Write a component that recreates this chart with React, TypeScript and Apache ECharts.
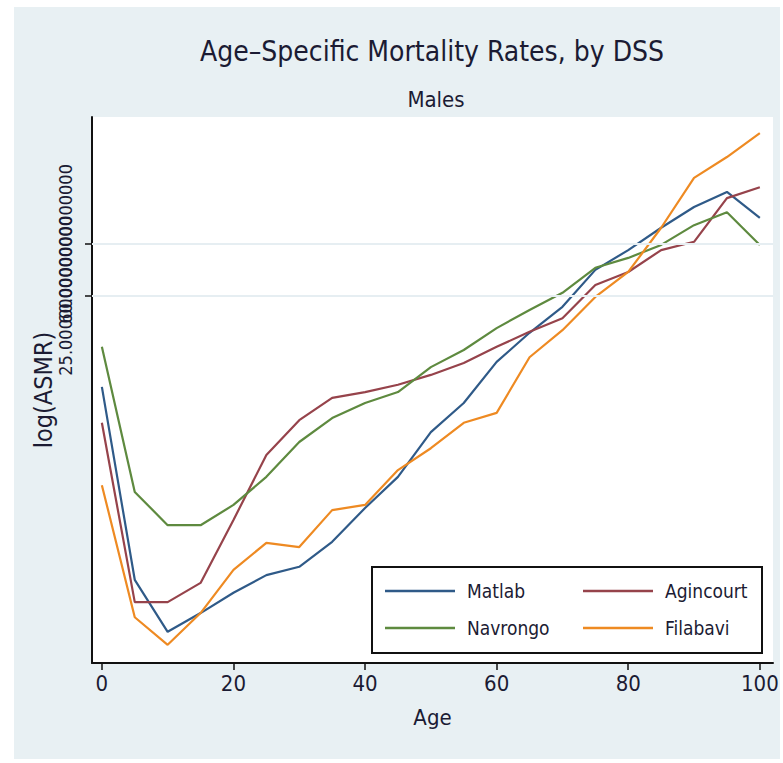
import React, { useEffect, useRef } from "react";
import * as echarts from "echarts";

// Age groups (years)
const ages = [0, 5, 10, 15, 20, 25, 30, 35, 40, 45, 50, 55, 60, 65, 70, 75, 80, 85, 90, 95, 100];

// log(ASMR) per DSS site, males
const matlab = [5.25, 1.54, 0.54, 0.9, 1.29, 1.63, 1.79, 2.27, 2.92, 3.52, 4.38, 4.94, 5.73, 6.29, 6.79, 7.5, 7.88, 8.31, 8.71, 9.0, 8.5];
const agincourt = [4.56, 1.11, 1.11, 1.48, 2.69, 3.94, 4.61, 5.04, 5.15, 5.29, 5.48, 5.71, 6.02, 6.31, 6.57, 7.21, 7.46, 7.88, 8.04, 8.88, 9.09];
const navrongo = [6.02, 3.23, 2.59, 2.59, 2.98, 3.52, 4.19, 4.65, 4.94, 5.15, 5.63, 5.96, 6.38, 6.73, 7.06, 7.54, 7.73, 7.98, 8.36, 8.61, 7.98];
const filabavi = [3.36, 0.82, 0.29, 0.9, 1.73, 2.25, 2.17, 2.88, 2.98, 3.65, 4.07, 4.56, 4.75, 5.82, 6.34, 6.98, 7.46, 8.31, 9.27, 9.67, 10.13];

const seriesNames = ["Matlab", "Agincourt", "Navrongo", "Filabavi"];
const seriesValues = [matlab, agincourt, navrongo, filabavi];
const seriesColors = ["#2f5a88", "#96434b", "#5e8a3f", "#ee8a22"];

const xTickValues = [0, 20, 40, 60, 80, 100];
const yTickValues = [7, 8];
const yTickLabels = ["25.0000000000000", "60.0000000000000"];

const Y_MIN = -0.06;
const Y_MAX = 10.44;

const FONT = "'DejaVu Sans Condensed', 'Liberation Sans', sans-serif";
const INK = "#1b1b33";

export default function App() {
  const ref = useRef<HTMLDivElement>(null);

  useEffect(() => {
    if (!ref.current) return;
    const chart = echarts.init(ref.current, undefined, { renderer: "svg" });

    const lineSeries = seriesNames.map((name, i) => ({
      name,
      type: "line",
      yAxisIndex: 0,
      data: ages.map((a, j) => [a, seriesValues[i][j]]),
      showSymbol: false,
      symbol: "none",
      z: 3,
      lineStyle: { color: seriesColors[i], width: 2.2 },
      itemStyle: { color: seriesColors[i] },
    }));

    // Horizontal reference lines at the y ticks, kept beneath the data lines
    const gridLines = {
      name: "__grid",
      type: "line",
      yAxisIndex: 0,
      data: [],
      z: 1,
      silent: true,
      markLine: {
        silent: true,
        symbol: "none",
        label: { show: false },
        lineStyle: { color: "#e6eef2", width: 2, type: "solid" },
        data: yTickValues.map((v) => ({ yAxis: v })),
      },
    };

    const yLabelStyle = {
      rotate: 90,
      margin: 18,
      hideOverlap: false,
      fontFamily: FONT,
      fontSize: 18,
      color: INK,
      formatter: (v: number) => {
        const k = yTickValues.indexOf(v);
        return k >= 0 ? yTickLabels[k] : "";
      },
    };

    // Each y tick label sits on its own (coincident) axis so that the two
    // long labels are both drawn even though they overlap.
    const yAxes = yTickValues.map((tv, i) => ({
      type: "value",
      position: "left",
      min: Y_MIN,
      max: Y_MAX,
      ...(i === 0
        ? {
            name: "log(ASMR)",
            nameLocation: "middle",
            nameGap: 36,
            nameRotate: 90,
            nameMoveOverlap: false,
            nameTextStyle: { fontFamily: FONT, fontSize: 25, color: INK },
          }
        : {}),
      axisLine: { show: i === 0, onZero: false, lineStyle: { color: "#111111", width: 2 } },
      axisTick: {
        show: true,
        length: 7,
        customValues: [tv],
        lineStyle: { color: "#111111", width: 1.5 },
      },
      axisLabel: { ...yLabelStyle, customValues: [tv] },
      splitLine: { show: false },
    }));

    chart.setOption({
      animation: false,
      backgroundColor: "#ffffff",
      textStyle: { fontFamily: FONT },
      graphic: [
        {
          type: "rect",
          z: -10,
          silent: true,
          shape: { x: 14, y: 7, width: 766, height: 752 },
          style: { fill: "#e8f0f3" },
        },
      ],
      title: [
        {
          text: "Age\u2013Specific Mortality Rates, by DSS",
          left: 427,
          top: 32,
          textAlign: "center",
          textStyle: { fontFamily: FONT, fontSize: 28, fontWeight: "normal", color: INK },
        },
        {
          text: "Males",
          left: 431,
          top: 83,
          textAlign: "center",
          textStyle: { fontFamily: FONT, fontSize: 22, fontWeight: "normal", color: INK },
        },
      ],
      legend: {
        left: 372,
        top: 567,
        width: 450,
        orient: "horizontal",
        padding: [11, 12, 12, 13],
        itemGap: 11,
        itemWidth: 70,
        itemHeight: 2.5,
        icon: "rect",
        backgroundColor: "#ffffff",
        borderColor: "#111111",
        borderWidth: 2,
        borderRadius: 0,
        data: seriesNames.map((n, i) => ({
          name: n,
          textStyle: { width: i % 2 === 0 ? 105 : 85 },
        })),
        textStyle: {
          fontFamily: FONT,
          fontSize: 19,
          color: INK,
          lineHeight: 26,
          padding: [0, 0, 0, 7],
        },
      },
      grid: {
        left: 92,
        top: 117,
        width: 681,
        height: 546,
        show: true,
        backgroundColor: "#ffffff",
        borderWidth: 0,
      },
      xAxis: {
        type: "value",
        min: -1.5,
        max: 102,
        name: "Age",
        nameLocation: "middle",
        nameGap: 43,
        nameTextStyle: { fontFamily: FONT, fontSize: 22, color: INK },
        axisLine: { show: true, onZero: false, lineStyle: { color: "#111111", width: 2 } },
        axisTick: { show: true, length: 7, customValues: xTickValues, lineStyle: { color: "#111111", width: 1.5 } },
        axisLabel: { customValues: xTickValues, margin: 9, fontFamily: FONT, fontSize: 22, color: INK },
        splitLine: { show: false },
      },
      yAxis: yAxes,
      series: [gridLines, ...lineSeries],
    });

    return () => chart.dispose();
  }, []);

  return (
    <div
      ref={ref}
      style={{ position: "fixed", left: 0, top: 0, width: 783, height: 763 }}
    />
  );
}
